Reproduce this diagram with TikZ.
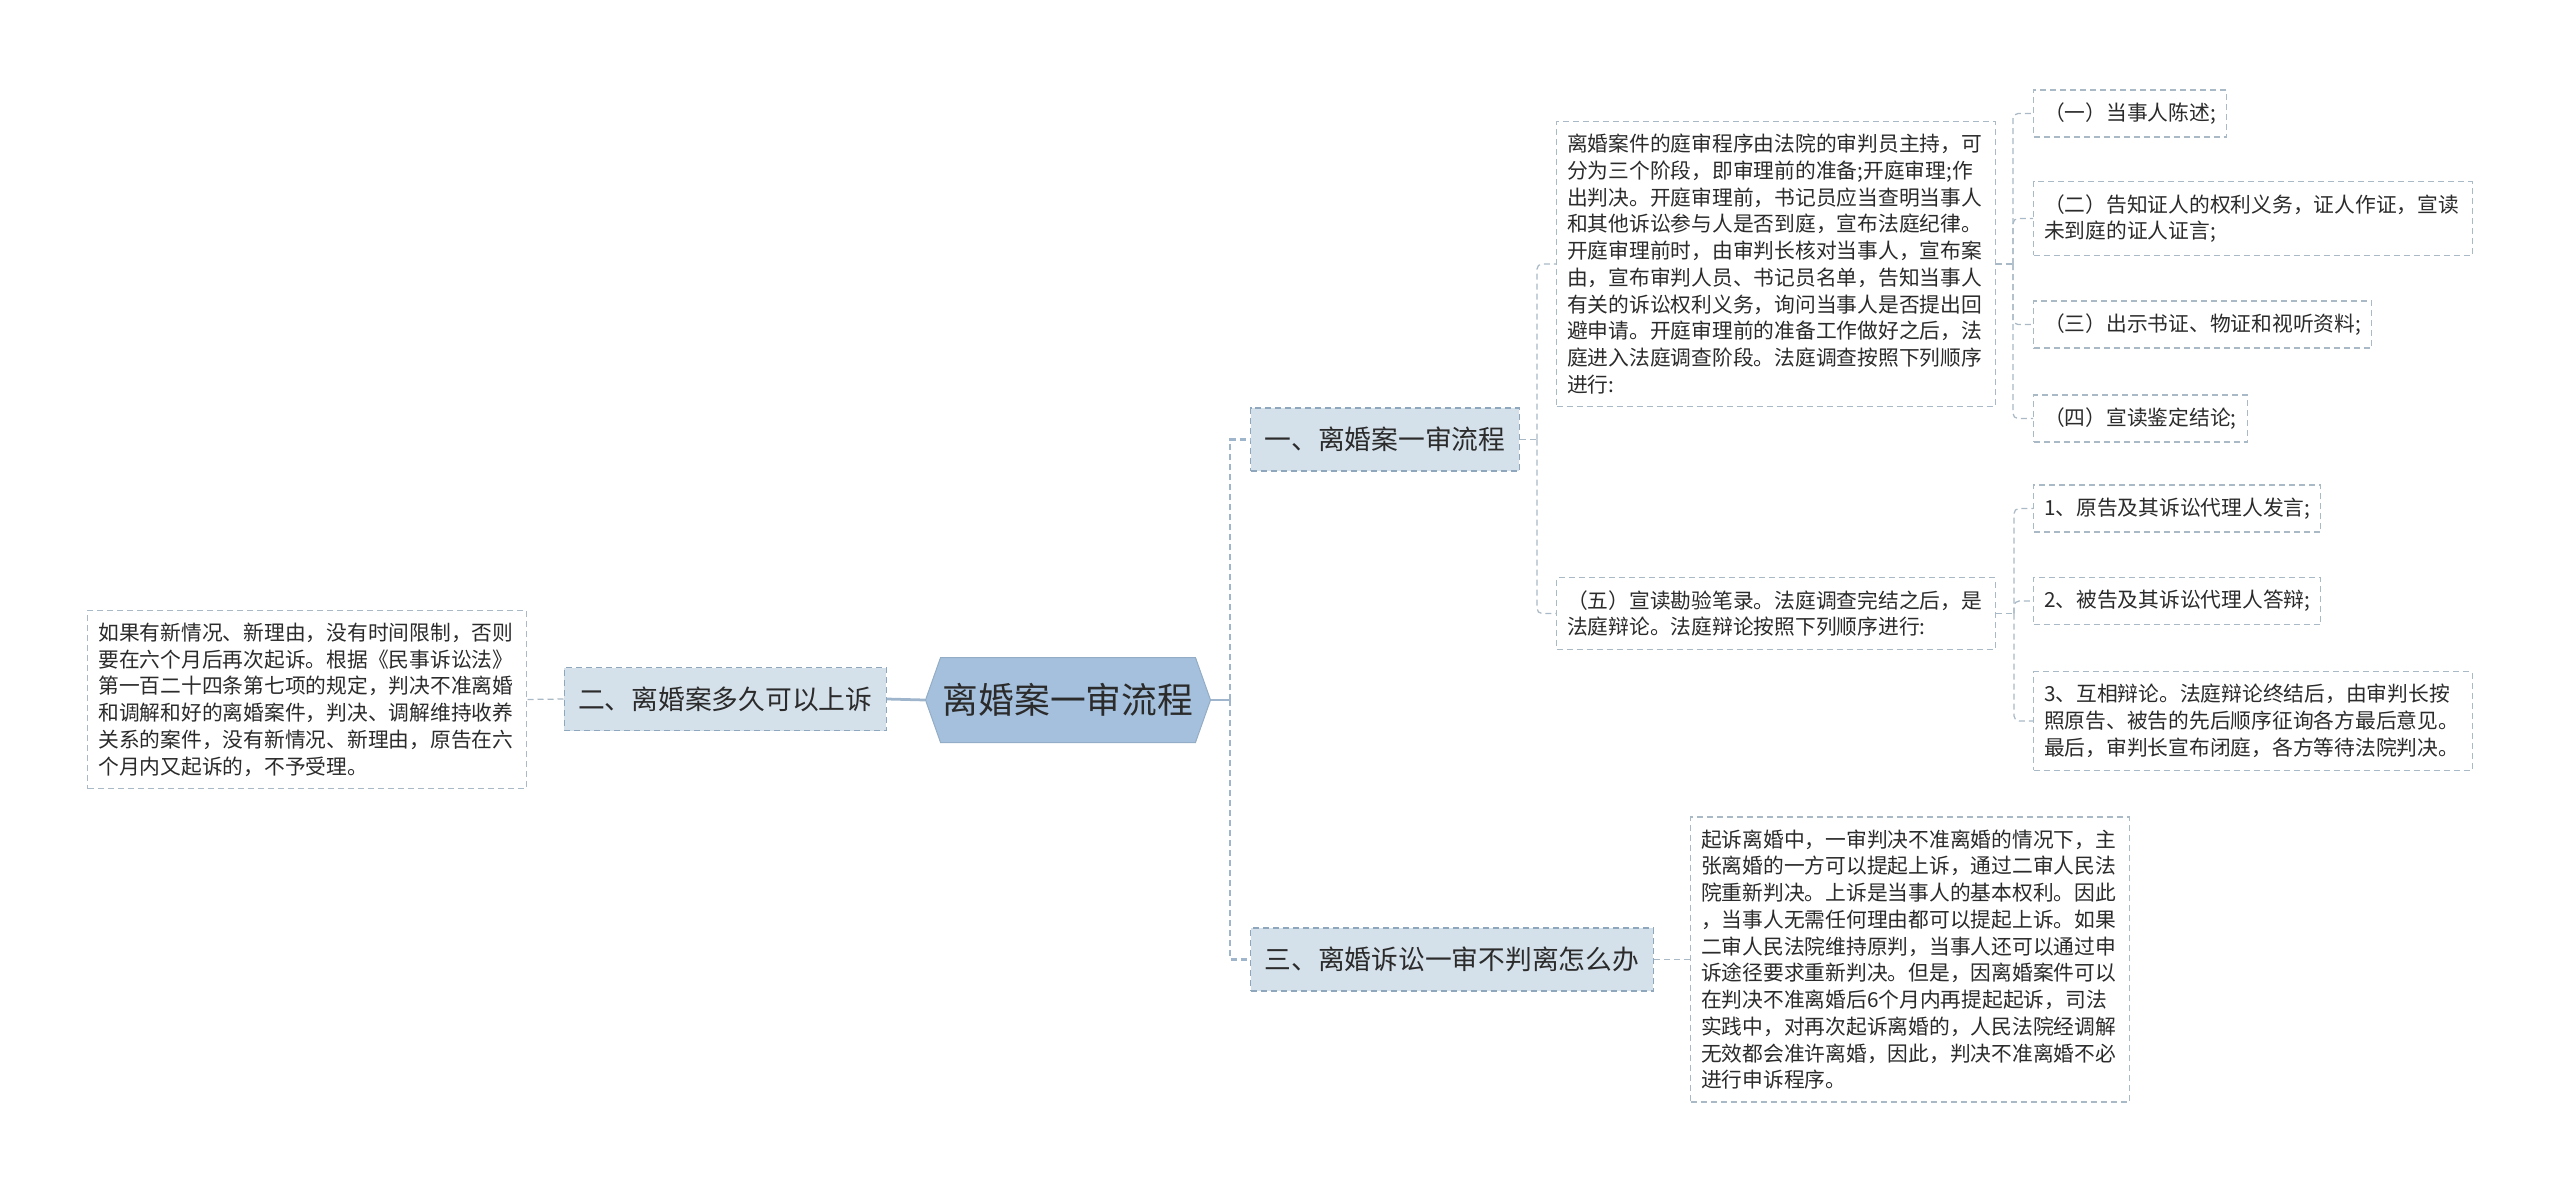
\documentclass[tikz,border=0pt]{standalone}
\usepackage{fontspec}
\setmainfont{Noto Sans CJK SC}
\usepackage{xcolor}
\usetikzlibrary{calc}
\usetikzlibrary{shapes}
\definecolor{hubfill}{HTML}{A4C0DC}
\definecolor{topfill}{HTML}{D4E0EA}
\definecolor{topline}{HTML}{8FA7BC}
\definecolor{leafline}{HTML}{A9B9C6}
\definecolor{linkline}{HTML}{9EB5CB}
\definecolor{inkgray}{HTML}{2B2B2B}

\begin{document}
\begin{tikzpicture}[x=0.4pt, y=-0.4pt,
    hub/.style={signal, signal to=east and west, signal pointer angle=141,
      fill=hubfill, draw=hubfill!90!black, line width=0.4pt,
      minimum width=114pt, minimum height=34pt, inner sep=0pt,
      text=inkgray, font=\fontsize{14.3}{17}\selectfont},
    topic/.style={draw=topline, fill=topfill, dashed, dash pattern=on 2.4pt off 1.6pt,
      line width=0.5pt, inner xsep=5.6pt, inner ysep=0pt, minimum height=25.2pt,
      text=inkgray, font=\fontsize{10.7}{13}\selectfont},
    leaf/.style={draw=leafline, fill=white, dashed, dash pattern=on 2.4pt off 1.6pt,
      line width=0.45pt, inner xsep=4.2pt, inner ysep=5pt, minimum height=18.8pt,
      text=inkgray, font=\fontsize{8.3}{10.7}\selectfont},
    wide/.style={text width=167pt, align=left},
    trunk/.style={draw=linkline, line width=1.1pt},
    spine/.style={draw=linkline, line width=1.1pt, dash pattern=on 2.4pt off 1.6pt},
    twig/.style={draw=leafline, line width=0.5pt, dash pattern=on 2.4pt off 1.6pt,
      rounded corners=2pt}]
  \useasboundingbox (0,0) rectangle (2560,1194);
  % nodes %
  \node[hub] (hub) at (1068,700) {离婚案一审流程};
  \node[topic, anchor=east] (two) at (887,699) {二、离婚案多久可以上诉};
  \node[topic, anchor=west] (one) at (1250,439.5) {一、离婚案一审流程};
  \node[topic, anchor=west] (three) at (1250,959.5) {三、离婚诉讼一审不判离怎么办};
  \node[leaf, wide, anchor=east] (left) at (527,699.5) {如果有新情况、新理由，没有时间限制，否则\\
    要在六个月后再次起诉。根据《民事诉讼法》\\
    第一百二十四条第七项的规定，判决不准离婚\\
    和调解和好的离婚案件，判决、调解维持收养\\
    关系的案件，没有新情况、新理由，原告在六\\
    个月内又起诉的，不予受理。};
  \node[leaf, wide, anchor=west] (stage) at (1556,264) {离婚案件的庭审程序由法院的审判员主持，可\\
    分为三个阶段，即审理前的准备;开庭审理;作\\
    出判决。开庭审理前，书记员应当查明当事人\\
    和其他诉讼参与人是否到庭，宣布法庭纪律。\\
    开庭审理前时，由审判长核对当事人，宣布案\\
    由，宣布审判人员、书记员名单，告知当事人\\
    有关的诉讼权利义务，询问当事人是否提出回\\
    避申请。开庭审理前的准备工作做好之后，法\\
    庭进入法庭调查阶段。法庭调查按照下列顺序\\
    进行:};
  \node[leaf, wide, anchor=west] (debate) at (1556,613.5) {（五）宣读勘验笔录。法庭调查完结之后，是\\
    法庭辩论。法庭辩论按照下列顺序进行:};
  \node[leaf, anchor=west] (c1) at (2033,113.5) {（一）当事人陈述;};
  \node[leaf, wide, anchor=west] (c2) at (2033,218.5) {（二）告知证人的权利义务，证人作证，宣读\\
    未到庭的证人证言;};
  \node[leaf, anchor=west] (c3) at (2033,324.5) {（三）出示书证、物证和视听资料;};
  \node[leaf, anchor=west] (c4) at (2033,418.5) {（四）宣读鉴定结论;};
  \node[leaf, anchor=west] (d1) at (2033,508.5) {1、原告及其诉讼代理人发言;};
  \node[leaf, anchor=west] (d2) at (2033,601) {2、被告及其诉讼代理人答辩;};
  \node[leaf, wide, anchor=west] (d3) at (2033,721) {3、互相辩论。法庭辩论终结后，由审判长按\\
    照原告、被告的先后顺序征询各方最后意见。\\
    最后，审判长宣布闭庭，各方等待法院判决。};
  \node[leaf, wide, anchor=west] (answer) at (1690,959.5) {起诉离婚中，一审判决不准离婚的情况下，主\\
    张离婚的一方可以提起上诉，通过二审人民法\\
    院重新判决。上诉是当事人的基本权利。因此\\
    ，当事人无需任何理由都可以提起上诉。如果\\
    二审人民法院维持原判，当事人还可以通过申\\
    诉途径要求重新判决。但是，因离婚案件可以\\
    在判决不准离婚后6个月内再提起起诉，司法\\
    实践中，对再次起诉离婚的，人民法院经调解\\
    无效都会准许离婚，因此，判决不准离婚不必\\
    进行申诉程序。};
  % edges %
  \coordinate (j0) at (1230,700);
  \coordinate (j1) at (1537,439.5);
  \coordinate (j2) at (2013,264);
  \coordinate (j3) at (2014,613.5);
  \draw[trunk] (hub.east) -- (j0);
  \draw[trunk] (hub.west) -- (two.east);
  \draw[spine] (j0) |- (one.west);
  \draw[spine] (j0) |- (three.west);
  \draw[twig] (two.west) -- (left.east);
  \draw[twig] (three.east) -- (answer.west);
  \draw[twig] (one.east) -- (j1);
  \foreach \kid in {stage,debate}
    \draw[twig] (j1) |- (\kid.west);
  \draw[twig] (stage.east) -- (j2);
  \foreach \kid in {c1,c2,c3,c4}
    \draw[twig] (j2) |- (\kid.west);
  \draw[twig] (debate.east) -- (j3);
  \foreach \kid in {d1,d2,d3}
    \draw[twig] (j3) |- (\kid.west);
\end{tikzpicture}
\end{document}
